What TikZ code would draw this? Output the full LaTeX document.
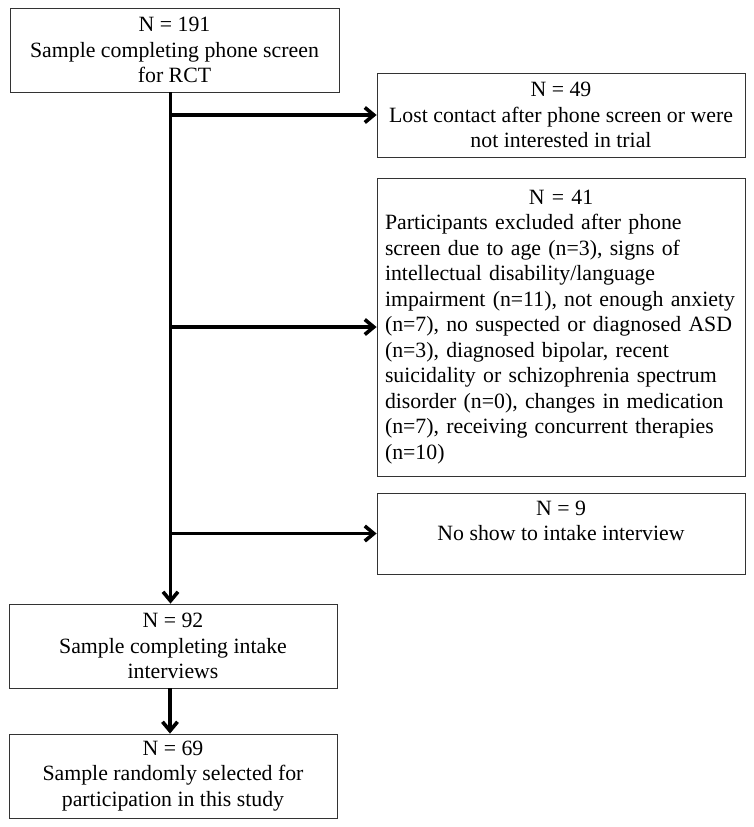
\documentclass[tikz,border=0pt]{standalone}
\usepackage{fontspec}
\setmainfont{Liberation Serif}
\usetikzlibrary{arrows.meta}
\hyphenpenalty=10000

\begin{document}
\begin{tikzpicture}[x=1pt,y=-1pt,
	box/.style={draw=black!80, line width=0.8pt, align=center, inner sep=0pt,
	font=\fontsize{21.8}{25.5}\selectfont},
	flow/.style={line width=3.6pt, -{Straight Barb[length=9pt,width=15pt]}}]
\useasboundingbox (0,0) rectangle (754,827);
\node [box, minimum width=329pt, minimum height=84pt] (phone) at (174.5,50)
	{N = 191\\Sample completing phone screen\\for RCT};
\node [box, minimum width=368pt, minimum height=84pt] (lost) at (561,115)
	{N = 49\\Lost contact after phone screen or were\\not interested in trial};
\node [box, minimum width=368pt, minimum height=298pt, text width=352pt, align=left] (excl) at (561,327)
	{\makebox[\linewidth]{N = 41}\\Participants excluded after phone\\screen due to age (n=3), signs of\\intellectual disability/language\\impairment (n=11), not enough anxiety\\(n=7), no suspected or diagnosed ASD\\(n=3), diagnosed bipolar, recent\\suicidality or schizophrenia spectrum\\disorder (n=0), changes in medication\\(n=7), receiving concurrent therapies\\(n=10)};
\node [box, minimum width=368pt, minimum height=81pt] (noshow) at (561,533.5)
	{N = 9\\No show to intake interview\\\mbox{}};
\node [box, minimum width=328pt, minimum height=84pt] (intake) at (173,646)
	{N = 92\\Sample completing intake\\interviews};
\node [box, minimum width=328pt, minimum height=84pt] (random) at (173,776)
	{N = 69\\Sample randomly selected for\\participation in this study};
% main line and exclusions
\draw[flow] ([xshift=-4pt]phone.south) -- ([xshift=-4pt]phone.south |- intake.north);
\draw[flow] ([xshift=-4pt]phone.south |- lost.west) -- (lost.west);
\draw[flow] ([xshift=-4pt]phone.south |- excl.west) -- (excl.west);
\draw[flow] ([xshift=-4pt]phone.south |- noshow.west) -- (noshow.west);
\draw[flow] ([xshift=-3pt]intake.south) -- ([xshift=-3pt]random.north);
\end{tikzpicture}
\end{document}
